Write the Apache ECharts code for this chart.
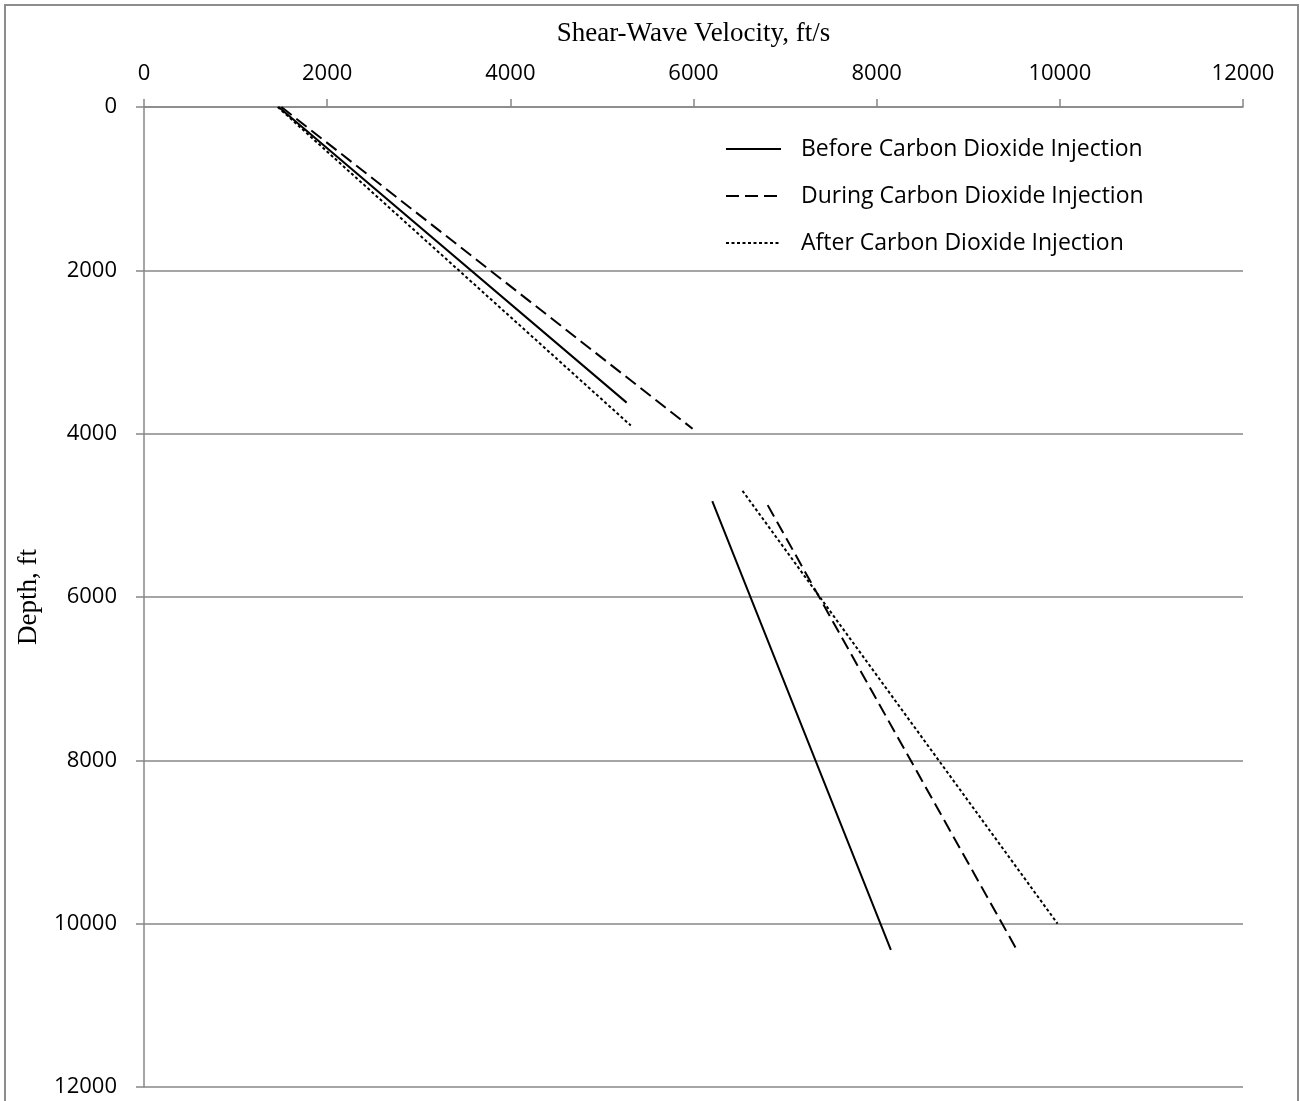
<!DOCTYPE html>
<html>
<head>
<meta charset="utf-8">
<script src="https://cdn.jsdelivr.net/npm/echarts@6/dist/echarts.min.js"></script>
<style>
  html, body { margin: 0; padding: 0; background: #ffffff; }
  #chart { width: 1300px; height: 1101px; }
</style>
</head>
<body>
<div id="chart"></div>
<script>
// ---- data ----
const seriesNames = ['Before Carbon Dioxide Injection', 'During Carbon Dioxide Injection', 'After Carbon Dioxide Injection'];

// velocity (ft/s) and depth (ft); null marks a break between the two segments
const beforeVelocity = [1470, 5270, null, 6205, 8155];
const beforeDepth    = [0,    3620, null, 4825, 10320];

const duringVelocity = [1500, 5990, null, 6810, 9520];
const duringDepth    = [0,    3940, null, 4875, 10300];

const afterVelocity  = [1460, 5315, null, 6535, 9975];
const afterDepth     = [0,    3900, null, 4700, 10000];

const velocityTicks = [0, 2000, 4000, 6000, 8000, 10000, 12000];
const depthTicks    = [0, 2000, 4000, 6000, 8000, 10000, 12000];

function pairs(xs, ys) {
  return xs.map((x, i) => (x === null || ys[i] === null) ? ['-', '-'] : [x, ys[i]]);
}

const chart = echarts.init(document.getElementById('chart'), null, { renderer: 'canvas' });

const gray = '#878787';
const sansFont = 'Open Sans';
const serifFont = 'Liberation Serif';

function lineSeries(name, xs, ys, type) {
  return {
    name: name,
    type: 'line',
    data: pairs(xs, ys),
    showSymbol: false,
    symbol: 'none',
    connectNulls: false,
    animation: false,
    lineStyle: { color: '#000000', width: 2, type: type },
    itemStyle: { color: '#000000' }
  };
}

const option = {
  backgroundColor: '#ffffff',
  animation: false,
  graphic: [{
    type: 'rect',
    shape: { x: 5, y: 5, width: 1293, height: 1120 },
    style: { fill: 'none', stroke: '#8c8c8c', lineWidth: 2 },
    silent: true,
    z: -1
  }],
  grid: { left: 144, right: 57, top: 107, bottom: 14, containLabel: false },
  legend: {
    orient: 'vertical',
    left: 725,
    top: 136,
    padding: 0,
    itemWidth: 55,
    itemHeight: 14,
    itemGap: 21,
    data: seriesNames,
    itemStyle: { opacity: 0 },
    textStyle: { fontFamily: sansFont, fontSize: 23, color: '#000000', lineHeight: 26, padding: [0, 0, 0, 15] }
  },
  xAxis: {
    type: 'value',
    position: 'top',
    min: velocityTicks[0],
    max: velocityTicks[velocityTicks.length - 1],
    interval: velocityTicks[1] - velocityTicks[0],
    name: 'Shear-Wave Velocity, ft/s',
    nameLocation: 'middle',
    nameGap: 60,
    nameTextStyle: { fontFamily: serifFont, fontSize: 27, color: '#000000' },
    axisLine: { show: true, lineStyle: { color: gray, width: 1.5 } },
    axisTick: { show: true, length: 8, inside: false, lineStyle: { color: gray, width: 1.5 } },
    axisLabel: { fontFamily: sansFont, fontSize: 22, color: '#000000', margin: 22, formatter: v => String(v) },
    splitLine: { show: false }
  },
  yAxis: {
    type: 'value',
    inverse: true,
    min: depthTicks[0],
    max: depthTicks[depthTicks.length - 1],
    interval: depthTicks[1] - depthTicks[0],
    name: 'Depth, ft',
    nameLocation: 'middle',
    nameGap: 102,
    nameRotate: 90,
    nameTextStyle: { fontFamily: serifFont, fontSize: 27, color: '#000000' },
    axisLine: { show: true, lineStyle: { color: gray, width: 1.5 } },
    axisTick: { show: true, length: 8, inside: false, lineStyle: { color: gray, width: 1.5 } },
    axisLabel: { fontFamily: sansFont, fontSize: 22, color: '#000000', margin: 27, formatter: v => String(v) },
    splitLine: { show: true, lineStyle: { color: gray, width: 1.5 } }
  },
  series: [
    lineSeries(seriesNames[0], beforeVelocity, beforeDepth, 'solid'),
    lineSeries(seriesNames[1], duringVelocity, duringDepth, [13, 6]),
    lineSeries(seriesNames[2], afterVelocity, afterDepth, [3, 2.5])
  ]
};

chart.setOption(option);
</script>
</body>
</html>
